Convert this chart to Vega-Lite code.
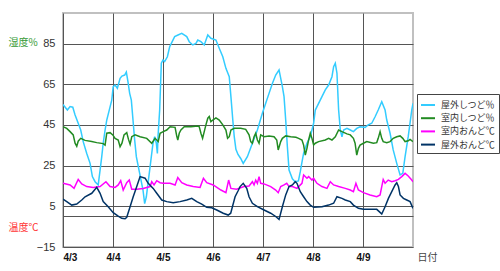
{
  "$schema": "https://vega.github.io/schema/vega-lite/v6.json",
  "width": 350,
  "height": 234,
  "autosize": "none",
  "padding": {"left": 63, "top": 13, "right": 87, "bottom": 24},
  "background": "white",
  "config": {
    "view": {"stroke": "#c0c0c0", "strokeWidth": 2},
    "font": "Liberation Sans",
    "legend": {
      "orient": "none", "legendX": 354, "legendY": 81,
      "strokeColor": "#444", "fillColor": "white", "padding": 3,
      "symbolType": "stroke", "symbolSize": 196, "symbolStrokeWidth": 2,
      "labelFont": "Noto Sans CJK JP", "labelFontSize": 9, "labelColor": "#333",
      "rowPadding": 0.2, "labelOffset": 5
    }
  },
  "data": {"values": [
    {"h":0,"s":"屋外しつど％","v":55},{"h":2.1,"s":"屋外しつど％","v":52.3},{"h":3.4,"s":"屋外しつど％","v":54},{"h":4.7,"s":"屋外しつど％","v":53.7},{"h":5.8,"s":"屋外しつど％","v":49.9},{"h":7.3,"s":"屋外しつど％","v":45.8},{"h":8.5,"s":"屋外しつど％","v":42.5},{"h":9.7,"s":"屋外しつど％","v":36.8},{"h":11.4,"s":"屋外しつど％","v":31},{"h":13,"s":"屋外しつど％","v":26.1},{"h":14.1,"s":"屋外しつど％","v":19.6},{"h":15.4,"s":"屋外しつど％","v":17.1},{"h":16.9,"s":"屋外しつど％","v":15.5},{"h":17.8,"s":"屋外しつど％","v":22.8},{"h":18.6,"s":"屋外しつど％","v":29.4},{"h":19.3,"s":"屋外しつど％","v":36},{"h":20.2,"s":"屋外しつど％","v":42.5},{"h":21,"s":"屋外しつど％","v":47.4},{"h":22.2,"s":"屋外しつど％","v":52.3},{"h":23.4,"s":"屋外しつど％","v":57.2},{"h":24.1,"s":"屋外しつど％","v":63.8},{"h":25,"s":"屋外しつど％","v":64.6},{"h":26.1,"s":"屋外しつど％","v":63},{"h":27.4,"s":"屋外しつど％","v":67.9},{"h":28.3,"s":"屋外しつど％","v":69},{"h":29.6,"s":"屋外しつど％","v":69.5},{"h":30.4,"s":"屋外しつど％","v":71},{"h":31.2,"s":"屋外しつど％","v":66.2},{"h":32,"s":"屋外しつど％","v":60.5},{"h":32.8,"s":"屋外しつど％","v":57.2},{"h":33.6,"s":"屋外しつど％","v":47.4},{"h":34.4,"s":"屋外しつど％","v":37.6},{"h":35.2,"s":"屋外しつど％","v":29.4},{"h":36.8,"s":"屋外しつど％","v":21.2},{"h":38.4,"s":"屋外しつど％","v":13},{"h":39.2,"s":"屋外しつど％","v":6.3},{"h":40,"s":"屋外しつど％","v":9.7},{"h":40.8,"s":"屋外しつど％","v":16.3},{"h":41.6,"s":"屋外しつど％","v":22.8},{"h":42.4,"s":"屋外しつど％","v":29.4},{"h":43.2,"s":"屋外しつど％","v":36},{"h":44,"s":"屋外しつど％","v":39.2},{"h":44.8,"s":"屋外しつど％","v":36},{"h":45.3,"s":"屋外しつど％","v":31},{"h":45.6,"s":"屋外しつど％","v":39.2},{"h":46.4,"s":"屋外しつど％","v":52.3},{"h":47.2,"s":"屋外しつど％","v":75.3},{"h":48,"s":"屋外しつど％","v":76.9},{"h":48.8,"s":"屋外しつど％","v":76.1},{"h":50.1,"s":"屋外しつど％","v":78.5},{"h":51.2,"s":"屋外しつど％","v":83.4},{"h":52,"s":"屋外しつど％","v":85.1},{"h":53.6,"s":"屋外しつど％","v":88.4},{"h":55.2,"s":"屋外しつど％","v":89.2},{"h":57,"s":"屋外しつど％","v":90},{"h":59.4,"s":"屋外しつど％","v":88.4},{"h":60.6,"s":"屋外しつど％","v":85.9},{"h":62.3,"s":"屋外しつど％","v":84.3},{"h":63.8,"s":"屋外しつど％","v":85.1},{"h":64.7,"s":"屋外しつど％","v":86.7},{"h":66.2,"s":"屋外しつど％","v":85.9},{"h":67.8,"s":"屋外しつど％","v":84.3},{"h":69.5,"s":"屋外しつど％","v":89.2},{"h":71,"s":"屋外しつど％","v":87.6},{"h":73.4,"s":"屋外しつど％","v":86.7},{"h":75,"s":"屋外しつど％","v":82.7},{"h":76.7,"s":"屋外しつど％","v":78.5},{"h":78.2,"s":"屋外しつど％","v":72.8},{"h":79.8,"s":"屋外しつど％","v":68.7},{"h":80.6,"s":"屋外しつど％","v":58.9},{"h":81.5,"s":"屋外しつど％","v":47.4},{"h":82.2,"s":"屋外しつど％","v":39.2},{"h":83,"s":"屋外しつど％","v":33},{"h":84,"s":"屋外しつど％","v":30.5},{"h":85.3,"s":"屋外しつど％","v":28.5},{"h":86.5,"s":"屋外しつど％","v":26.1},{"h":88.5,"s":"屋外しつど％","v":29.4},{"h":90.9,"s":"屋外しつど％","v":36},{"h":93.3,"s":"屋外しつど％","v":42.5},{"h":95.7,"s":"屋外しつど％","v":50.7},{"h":97.3,"s":"屋外しつど％","v":55.6},{"h":98.9,"s":"屋外しつど％","v":60.5},{"h":100.5,"s":"屋外しつど％","v":65.4},{"h":102.1,"s":"屋外しつど％","v":69.5},{"h":103.7,"s":"屋外しつど％","v":72},{"h":105.3,"s":"屋外しつど％","v":63.8},{"h":106.1,"s":"屋外しつど％","v":58.9},{"h":106.9,"s":"屋外しつど％","v":47.4},{"h":107.7,"s":"屋外しつど％","v":34.3},{"h":108.5,"s":"屋外しつど％","v":22.8},{"h":110.1,"s":"屋外しつど％","v":18.5},{"h":111.4,"s":"屋外しつど％","v":17.1},{"h":113,"s":"屋外しつど％","v":17.5},{"h":113.9,"s":"屋外しつど％","v":22},{"h":114.6,"s":"屋外しつど％","v":26.1},{"h":115.5,"s":"屋外しつど％","v":31.1},{"h":117.1,"s":"屋外しつど％","v":36},{"h":118.7,"s":"屋外しつど％","v":39.2},{"h":120.3,"s":"屋外しつど％","v":45.8},{"h":121.1,"s":"屋外しつど％","v":52.3},{"h":122.7,"s":"屋外しつど％","v":55.6},{"h":124.3,"s":"屋外しつど％","v":58.9},{"h":125.9,"s":"屋外しつど％","v":62.2},{"h":127.5,"s":"屋外しつど％","v":64.6},{"h":129.1,"s":"屋外しつど％","v":68.7},{"h":129.9,"s":"屋外しつど％","v":73.6},{"h":130.7,"s":"屋外しつど％","v":75.3},{"h":131.5,"s":"屋外しつど％","v":70.4},{"h":132.3,"s":"屋外しつど％","v":52.3},{"h":133.1,"s":"屋外しつど％","v":42.5},{"h":133.9,"s":"屋外しつど％","v":39.2},{"h":134.7,"s":"屋外しつど％","v":42.5},{"h":136.3,"s":"屋外しつど％","v":43.3},{"h":137.9,"s":"屋外しつど％","v":42.5},{"h":139.4,"s":"屋外しつど％","v":41.7},{"h":141,"s":"屋外しつど％","v":43.3},{"h":142.6,"s":"屋外しつど％","v":44.1},{"h":145,"s":"屋外しつど％","v":43.8},{"h":146.5,"s":"屋外しつど％","v":45},{"h":148.2,"s":"屋外しつど％","v":45.8},{"h":149.8,"s":"屋外しつど％","v":49},{"h":151.3,"s":"屋外しつど％","v":52.3},{"h":153,"s":"屋外しつど％","v":56.4},{"h":154.6,"s":"屋外しつど％","v":52.3},{"h":155.4,"s":"屋外しつど％","v":47.4},{"h":157,"s":"屋外しつど％","v":40.9},{"h":158.5,"s":"屋外しつど％","v":32.7},{"h":160.2,"s":"屋外しつど％","v":26.1},{"h":161.8,"s":"屋外しつど％","v":20.4},{"h":163.1,"s":"屋外しつど％","v":21.2},{"h":164.2,"s":"屋外しつど％","v":29.4},{"h":165.7,"s":"屋外しつど％","v":39.2},{"h":167.4,"s":"屋外しつど％","v":52.3},{"h":168,"s":"屋外しつど％","v":55.6},

    {"h":0,"s":"室内しつど％","v":44.1},{"h":1.8,"s":"室内しつど％","v":43.3},{"h":3.4,"s":"室内しつど％","v":41.7},{"h":4.9,"s":"室内しつど％","v":40.1},{"h":5.8,"s":"室内しつど％","v":36},{"h":6.6,"s":"室内しつど％","v":34.5},{"h":7.3,"s":"室内しつど％","v":37},{"h":8.5,"s":"室内しつど％","v":38.4},{"h":10.6,"s":"室内しつど％","v":37.4},{"h":13.8,"s":"室内しつど％","v":36.8},{"h":16.2,"s":"室内しつど％","v":36.3},{"h":19.3,"s":"室内しつど％","v":35.8},{"h":20.2,"s":"室内しつど％","v":35.1},{"h":21,"s":"室内しつど％","v":40.9},{"h":22.6,"s":"室内しつど％","v":41.2},{"h":23.9,"s":"室内しつど％","v":40.1},{"h":25,"s":"室内しつど％","v":38.4},{"h":26.5,"s":"室内しつど％","v":37.6},{"h":27.4,"s":"室内しつど％","v":34.3},{"h":28.3,"s":"室内しつど％","v":36},{"h":29.3,"s":"室内しつど％","v":40.1},{"h":30.6,"s":"室内しつど％","v":41.2},{"h":31.4,"s":"室内しつど％","v":38},{"h":32.2,"s":"室内しつど％","v":35.5},{"h":33,"s":"室内しつど％","v":39.2},{"h":34.6,"s":"室内しつど％","v":40.1},{"h":37,"s":"室内しつど％","v":39.2},{"h":40.2,"s":"室内しつど％","v":38.4},{"h":42.6,"s":"室内しつど％","v":36},{"h":44.2,"s":"室内しつど％","v":38.4},{"h":45.7,"s":"室内しつど％","v":36.8},{"h":46.6,"s":"室内しつど％","v":40.9},{"h":48.1,"s":"室内しつど％","v":41.7},{"h":49.8,"s":"室内しつど％","v":42.5},{"h":51.4,"s":"室内しつど％","v":44.1},{"h":53.8,"s":"室内しつど％","v":43.8},{"h":54.6,"s":"室内しつど％","v":39.5},{"h":55.1,"s":"室内しつど％","v":37.6},{"h":55.8,"s":"室内しつど％","v":40.9},{"h":56.6,"s":"室内しつど％","v":42.5},{"h":58.2,"s":"室内しつど％","v":44.1},{"h":61.4,"s":"室内しつど％","v":44.1},{"h":64.7,"s":"室内しつど％","v":44.5},{"h":65.4,"s":"室内しつど％","v":44.1},{"h":66.2,"s":"室内しつど％","v":40.9},{"h":67,"s":"室内しつど％","v":38.4},{"h":67.8,"s":"室内しつど％","v":41.7},{"h":68.6,"s":"室内しつど％","v":45},{"h":69.5,"s":"室内しつど％","v":48.3},{"h":70.2,"s":"室内しつど％","v":49.1},{"h":71,"s":"室内しつど％","v":46.6},{"h":71.9,"s":"室内しつど％","v":47.4},{"h":73.4,"s":"室内しつど％","v":48.5},{"h":75,"s":"室内しつど％","v":47.4},{"h":76.7,"s":"室内しつど％","v":45},{"h":78.2,"s":"室内しつど％","v":42.5},{"h":79,"s":"室内しつど％","v":38.4},{"h":79.8,"s":"室内しつど％","v":39.2},{"h":80.6,"s":"室内しつど％","v":42.5},{"h":82.2,"s":"室内しつど％","v":43.3},{"h":85.3,"s":"室内しつど％","v":43.3},{"h":87.7,"s":"室内しつど％","v":42.8},{"h":89.3,"s":"室内しつど％","v":40.1},{"h":90.1,"s":"室内しつど％","v":36.8},{"h":90.9,"s":"室内しつど％","v":36},{"h":91.7,"s":"室内しつど％","v":39.2},{"h":92.5,"s":"室内しつど％","v":40.9},{"h":93.3,"s":"室内しつど％","v":37.6},{"h":94.1,"s":"室内しつど％","v":36},{"h":94.9,"s":"室内しつど％","v":40.1},{"h":96.5,"s":"室内しつど％","v":39.2},{"h":98.9,"s":"室内しつど％","v":39.6},{"h":101.3,"s":"室内しつど％","v":39.2},{"h":102.6,"s":"室内しつど％","v":37.6},{"h":103.3,"s":"室内しつど％","v":32.7},{"h":104.5,"s":"室内しつど％","v":36.8},{"h":105.3,"s":"室内しつど％","v":38.4},{"h":106.9,"s":"室内しつど％","v":39.6},{"h":109.3,"s":"室内しつど％","v":39.2},{"h":111.8,"s":"室内しつど％","v":38.9},{"h":113.1,"s":"室内しつど％","v":38.4},{"h":114.7,"s":"室内しつど％","v":37.6},{"h":115.5,"s":"室内しつど％","v":35.1},{"h":116.3,"s":"室内しつど％","v":30.2},{"h":117.1,"s":"室内しつど％","v":33.5},{"h":117.9,"s":"室内しつど％","v":37.6},{"h":118.7,"s":"室内しつど％","v":40.9},{"h":119.5,"s":"室内しつど％","v":38.4},{"h":120.3,"s":"室内しつど％","v":35.1},{"h":121.1,"s":"室内しつど％","v":36},{"h":122.7,"s":"室内しつど％","v":36.8},{"h":125.9,"s":"室内しつど％","v":37.6},{"h":127.5,"s":"室内しつど％","v":38.4},{"h":129.1,"s":"室内しつど％","v":37.6},{"h":130.7,"s":"室内しつど％","v":39.2},{"h":132.3,"s":"室内しつど％","v":42.5},{"h":133.9,"s":"室内しつど％","v":41.7},{"h":136.3,"s":"室内しつど％","v":40.6},{"h":137.9,"s":"室内しつど％","v":40.1},{"h":139.4,"s":"室内しつど％","v":38.4},{"h":140.2,"s":"室内しつど％","v":36},{"h":141,"s":"室内しつど％","v":30.2},{"h":141.8,"s":"室内しつど％","v":33.5},{"h":142.6,"s":"室内しつど％","v":35.1},{"h":144.2,"s":"室内しつど％","v":36},{"h":145.8,"s":"室内しつど％","v":36.8},{"h":149,"s":"室内しつど％","v":36},{"h":150.6,"s":"室内しつど％","v":36.3},{"h":151.3,"s":"室内しつど％","v":38.4},{"h":152.2,"s":"室内しつど％","v":41.7},{"h":153,"s":"室内しつど％","v":38.4},{"h":153.7,"s":"室内しつど％","v":36.8},{"h":155.4,"s":"室内しつど％","v":36.3},{"h":157,"s":"室内しつど％","v":36.8},{"h":158.5,"s":"室内しつど％","v":38.4},{"h":160.2,"s":"室内しつど％","v":39.2},{"h":161.8,"s":"室内しつど％","v":39.6},{"h":163.1,"s":"室内しつど％","v":38.4},{"h":164.2,"s":"室内しつど％","v":36.8},{"h":165.7,"s":"室内しつど％","v":37.2},{"h":166.6,"s":"室内しつど％","v":37.9},{"h":168,"s":"室内しつど％","v":36.8},

    {"h":0,"s":"室内おんど℃","v":16.3},{"h":3.4,"s":"室内おんど℃","v":15.5},{"h":5.3,"s":"室内おんど℃","v":13.8},{"h":7.3,"s":"室内おんど℃","v":18.2},{"h":9,"s":"室内おんど℃","v":16},{"h":11.4,"s":"室内おんど℃","v":14.7},{"h":14.5,"s":"室内おんど℃","v":14.3},{"h":17.8,"s":"室内おんど℃","v":14.7},{"h":20.6,"s":"室内おんど℃","v":17.1},{"h":22.6,"s":"室内おんど℃","v":14.7},{"h":25,"s":"室内おんど℃","v":14.3},{"h":26.5,"s":"室内おんど℃","v":15.5},{"h":27.7,"s":"室内おんど℃","v":17.6},{"h":28.9,"s":"室内おんど℃","v":13},{"h":30.6,"s":"室内おんど℃","v":16.6},{"h":31.8,"s":"室内おんど℃","v":17.9},{"h":33,"s":"室内おんど℃","v":13.4},{"h":35.4,"s":"室内おんど℃","v":13.4},{"h":38.5,"s":"室内おんど℃","v":13.8},{"h":41.8,"s":"室内おんど℃","v":14.7},{"h":42.6,"s":"室内おんど℃","v":17.1},{"h":43.7,"s":"室内おんど℃","v":15.5},{"h":45,"s":"室内おんど℃","v":17.6},{"h":46.6,"s":"室内おんど℃","v":16.6},{"h":48.1,"s":"室内おんど℃","v":16.3},{"h":51.4,"s":"室内おんど℃","v":16.3},{"h":53.8,"s":"室内おんど℃","v":15.5},{"h":55.1,"s":"室内おんど℃","v":19.1},{"h":57,"s":"室内おんど℃","v":16.6},{"h":59.4,"s":"室内おんど℃","v":15.5},{"h":62.5,"s":"室内おんど℃","v":14.7},{"h":65.8,"s":"室内おんど℃","v":14.3},{"h":67.4,"s":"室内おんど℃","v":18.8},{"h":69,"s":"室内おんど℃","v":16.6},{"h":72.1,"s":"室内おんど℃","v":15.5},{"h":75.8,"s":"室内おんど℃","v":13},{"h":78.2,"s":"室内おんど℃","v":11.7},{"h":79.5,"s":"室内おんど℃","v":17.9},{"h":80.6,"s":"室内おんど℃","v":13.8},{"h":83.3,"s":"室内おんど℃","v":13.4},{"h":86.9,"s":"室内おんど℃","v":14.7},{"h":89.3,"s":"室内おんど℃","v":15},{"h":90.9,"s":"室内おんど℃","v":17.1},{"h":91.7,"s":"室内おんど℃","v":15.5},{"h":92.5,"s":"室内おんど℃","v":17.9},{"h":93.3,"s":"室内おんど℃","v":16.3},{"h":94.1,"s":"室内おんど℃","v":19.6},{"h":94.9,"s":"室内おんど℃","v":16.3},{"h":96.5,"s":"室内おんど℃","v":16},{"h":99.7,"s":"室内おんど℃","v":14.7},{"h":102.1,"s":"室内おんど℃","v":13},{"h":103.3,"s":"室内おんど℃","v":11.7},{"h":104.5,"s":"室内おんど℃","v":14.7},{"h":106.1,"s":"室内おんど℃","v":15.5},{"h":107.4,"s":"室内おんど℃","v":16.3},{"h":108.5,"s":"室内おんど℃","v":14.7},{"h":110.1,"s":"室内おんど℃","v":14.7},{"h":112.3,"s":"室内おんど℃","v":13.8},{"h":114.7,"s":"室内おんど℃","v":16.3},{"h":115.5,"s":"室内おんど℃","v":20.4},{"h":117.1,"s":"室内おんど℃","v":18.8},{"h":117.9,"s":"室内おんど℃","v":19.6},{"h":119.5,"s":"室内おんど℃","v":17.9},{"h":120.3,"s":"室内おんど℃","v":18.8},{"h":121.9,"s":"室内おんど℃","v":16.3},{"h":124.3,"s":"室内おんど℃","v":14.7},{"h":126.7,"s":"室内おんど℃","v":13.8},{"h":128.3,"s":"室内おんど℃","v":17.1},{"h":129.9,"s":"室内おんど℃","v":15.5},{"h":132.3,"s":"室内おんど℃","v":14.7},{"h":135.5,"s":"室内おんど℃","v":13.8},{"h":137.9,"s":"室内おんど℃","v":13},{"h":139.4,"s":"室内おんど℃","v":12.2},{"h":140.6,"s":"室内おんど℃","v":16.3},{"h":141.8,"s":"室内おんど℃","v":13},{"h":144.2,"s":"室内おんど℃","v":11.7},{"h":147.4,"s":"室内おんど℃","v":10.6},{"h":150.6,"s":"室内おんど℃","v":9.7},{"h":152.2,"s":"室内おんど℃","v":10.6},{"h":153,"s":"室内おんど℃","v":14.7},{"h":153.7,"s":"室内おんど℃","v":18.2},{"h":154.6,"s":"室内おんど℃","v":16.3},{"h":156.1,"s":"室内おんど℃","v":17.9},{"h":157.8,"s":"室内おんど℃","v":17.1},{"h":159.4,"s":"室内おんど℃","v":17.6},{"h":161,"s":"室内おんど℃","v":18.2},{"h":162.6,"s":"室内おんど℃","v":19.6},{"h":164.2,"s":"室内おんど℃","v":21.2},{"h":165.7,"s":"室内おんど℃","v":19.9},{"h":167.4,"s":"室内おんど℃","v":17.9},{"h":168,"s":"室内おんど℃","v":17.1},

    {"h":0,"s":"屋外おんど℃","v":8.5},{"h":1.8,"s":"屋外おんど℃","v":7.3},{"h":4.2,"s":"屋外おんど℃","v":5.6},{"h":6.6,"s":"屋外おんど℃","v":6.1},{"h":9,"s":"屋外おんど℃","v":8.1},{"h":10.6,"s":"屋外おんど℃","v":9.7},{"h":13.8,"s":"屋外おんど℃","v":11.4},{"h":16.2,"s":"屋外おんど℃","v":14.3},{"h":17.8,"s":"屋外おんど℃","v":11.4},{"h":19.3,"s":"屋外おんど℃","v":7.3},{"h":21.7,"s":"屋外おんど℃","v":4.8},{"h":24.1,"s":"屋外おんど℃","v":1.9},{"h":26.5,"s":"屋外おんど℃","v":0.2},{"h":28.2,"s":"屋外おんど℃","v":-0.9},{"h":29.8,"s":"屋外おんど℃","v":-1.1},{"h":30.6,"s":"屋外おんど℃","v":-0.4},{"h":32.2,"s":"屋外おんど℃","v":4.8},{"h":33.7,"s":"屋外おんど℃","v":9.7},{"h":35.4,"s":"屋外おんど℃","v":14.7},{"h":37,"s":"屋外おんど℃","v":19.6},{"h":39.4,"s":"屋外おんど℃","v":18.8},{"h":40.9,"s":"屋外おんど℃","v":16.3},{"h":43.3,"s":"屋外おんど℃","v":13.8},{"h":45,"s":"屋外おんど℃","v":11.4},{"h":47.4,"s":"屋外おんど℃","v":8.1},{"h":49.8,"s":"屋外おんど℃","v":7.3},{"h":52.9,"s":"屋外おんど℃","v":6.8},{"h":56.2,"s":"屋外おんど℃","v":7.3},{"h":59.4,"s":"屋外おんど℃","v":8.1},{"h":61.8,"s":"屋外おんど℃","v":8.9},{"h":64.2,"s":"屋外おんど℃","v":7.3},{"h":66.6,"s":"屋外おんど℃","v":6.1},{"h":69,"s":"屋外おんど℃","v":4.5},{"h":71.4,"s":"屋外おんど℃","v":4.3},{"h":73.8,"s":"屋外おんど℃","v":3.2},{"h":76.9,"s":"屋外おんど℃","v":1.6},{"h":79.3,"s":"屋外おんど℃","v":0.7},{"h":80.5,"s":"屋外おんど℃","v":1.6},{"h":82.6,"s":"屋外おんど℃","v":9.7},{"h":84,"s":"屋外おんど℃","v":12.5},{"h":85,"s":"屋外おんど℃","v":14.7},{"h":86.5,"s":"屋外おんど℃","v":16.3},{"h":88.2,"s":"屋外おんど℃","v":13.8},{"h":89.3,"s":"屋外おんど℃","v":9.7},{"h":90.9,"s":"屋外おんど℃","v":6.5},{"h":93.3,"s":"屋外おんど℃","v":4.8},{"h":96.5,"s":"屋外おんど℃","v":3.2},{"h":99.7,"s":"屋外おんど℃","v":1.6},{"h":102.1,"s":"屋外おんど℃","v":0},{"h":103.7,"s":"屋外おんど℃","v":-1.4},{"h":105.3,"s":"屋外おんど℃","v":4.8},{"h":106.9,"s":"屋外おんど℃","v":10.6},{"h":108.5,"s":"屋外おんど℃","v":14.7},{"h":110.1,"s":"屋外おんど℃","v":15.5},{"h":111.5,"s":"屋外おんど℃","v":17.1},{"h":112.3,"s":"屋外おんど℃","v":16.3},{"h":113.9,"s":"屋外おんど℃","v":12.2},{"h":115.5,"s":"屋外おんど℃","v":9.7},{"h":117.1,"s":"屋外おんど℃","v":7.3},{"h":118.7,"s":"屋外おんど℃","v":5.6},{"h":120.3,"s":"屋外おんど℃","v":4.5},{"h":124.3,"s":"屋外おんど℃","v":4.8},{"h":127.5,"s":"屋外おんど℃","v":5.6},{"h":129.9,"s":"屋外おんど℃","v":6.5},{"h":131.5,"s":"屋外おんど℃","v":9.7},{"h":133.9,"s":"屋外おんど℃","v":8.9},{"h":135.5,"s":"屋外おんど℃","v":8.1},{"h":137.9,"s":"屋外おんど℃","v":7.3},{"h":139.4,"s":"屋外おんど℃","v":5.6},{"h":141.8,"s":"屋外おんど℃","v":4},{"h":144.2,"s":"屋外おんど℃","v":3.5},{"h":150.6,"s":"屋外おんど℃","v":3.5},{"h":151.8,"s":"屋外おんど℃","v":2.4},{"h":153,"s":"屋外おんど℃","v":1.2},{"h":154.6,"s":"屋外おんど℃","v":4.8},{"h":156.2,"s":"屋外おんど℃","v":8.9},{"h":157.8,"s":"屋外おんど℃","v":12.2},{"h":159.4,"s":"屋外おんど℃","v":15.5},{"h":160.2,"s":"屋外おんど℃","v":16.6},{"h":161,"s":"屋外おんど℃","v":14.7},{"h":161.8,"s":"屋外おんど℃","v":10.6},{"h":163.4,"s":"屋外おんど℃","v":8.9},{"h":165,"s":"屋外おんど℃","v":8.1},{"h":166.6,"s":"屋外おんど℃","v":7.3},{"h":168,"s":"屋外おんど℃","v":4}
  ]},
  "encoding": {
    "x": {
      "field": "h", "type": "quantitative",
      "scale": {"domain": [0, 168], "nice": false, "zero": false},
      "axis": {
        "values": [0, 24, 48, 72, 96, 120, 144],
        "labelExpr": "'4/' + (3 + round(datum.value / 24))",
        "labelFont": "Liberation Sans", "labelFontSize": 10, "labelFontWeight": "bold", "labelColor": "#111",
        "labelPadding": 5, "ticks": false, "domain": false,
        "grid": true, "gridColor": "#555", "gridWidth": 1,
        "title": "日付", "titleFont": "Noto Sans CJK JP", "titleFontSize": 10, "titleFontWeight": "normal", "titleColor": "#444",
        "titleX": 354, "titleY": 10, "titleAlign": "left", "titleBaseline": "middle"
      }
    },
    "color": {
      "field": "s", "type": "nominal",
      "scale": {"domain": ["屋外しつど％", "室内しつど％", "室内おんど℃", "屋外おんど℃"], "range": ["#33CCFF", "#228B22", "#FF00FF", "#003366"]},
      "legend": {"title": null}
    }
  },
  "layer": [
    {
      "transform": [{"filter": {"field": "s", "oneOf": ["屋外しつど％", "室内しつど％"]}}],
      "mark": {"type": "line", "strokeWidth": 1.5, "clip": true},
      "encoding": {
        "y": {
          "field": "v", "type": "quantitative",
          "scale": {"domain": [-15, 100], "nice": false, "zero": false},
          "axis": {
            "values": [-15, 0, 5, 25, 45, 65, 85],
            "labelExpr": "datum.value == 0 ? '' : datum.label",
            "labelFont": "Liberation Sans", "labelFontSize": 11, "labelColor": "#333", "labelPadding": 8,
            "ticks": false, "domain": false, "grid": true, "gridColor": "#555", "gridWidth": 1,
            "title": "湿度%", "titleFont": "Noto Sans CJK JP", "titleFontSize": 10, "titleFontWeight": "normal", "titleColor": "#339933",
            "titleAngle": 0, "titleX": -55, "titleY": 29, "titleAlign": "left", "titleBaseline": "middle"
          }
        }
      }
    },
    {
      "transform": [{"filter": {"field": "s", "oneOf": ["室内おんど℃", "屋外おんど℃"]}}],
      "mark": {"type": "line", "strokeWidth": 1.5, "clip": true},
      "encoding": {
        "y": {
          "field": "v", "type": "quantitative",
          "scale": {"domain": [-15, 100], "nice": false, "zero": false},
          "axis": {
            "orient": "left", "labels": false, "ticks": false, "domain": false, "grid": false,
            "title": "温度℃", "titleFont": "Noto Sans CJK JP", "titleFontSize": 10, "titleFontWeight": "normal", "titleColor": "#FF3333",
            "titleAngle": 0, "titleX": -55, "titleY": 214, "titleAlign": "left", "titleBaseline": "middle"
          }
        }
      }
    }
  ],
  "resolve": {"scale": {"y": "independent"}, "axis": {"y": "independent"}}
}
